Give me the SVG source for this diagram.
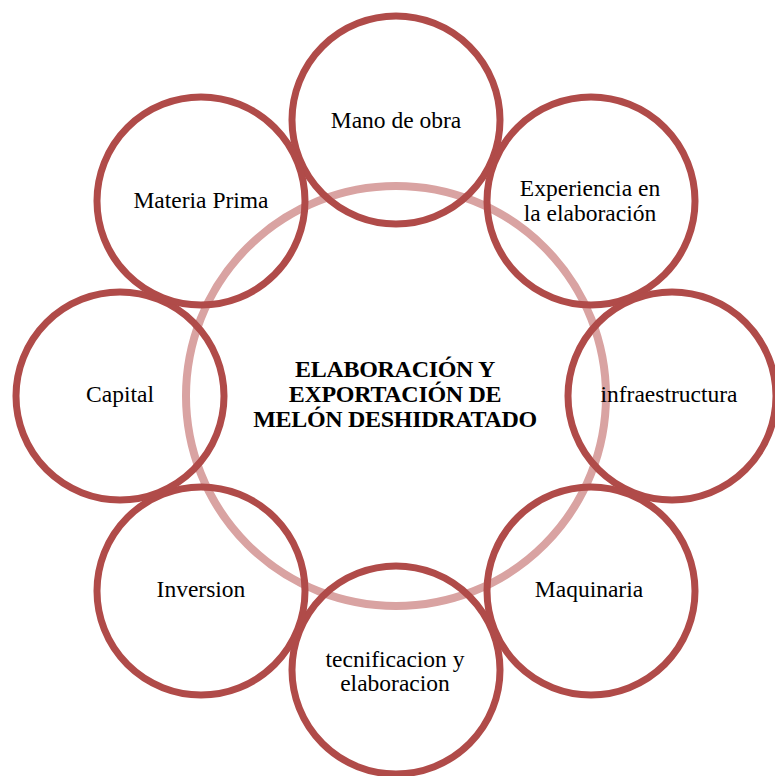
<svg xmlns="http://www.w3.org/2000/svg" width="775" height="776" viewBox="0 0 775 776">
<style>
.hub{fill:none;stroke:#d9a3a2;stroke-width:8}
.n{fill:none;stroke:#b04b49;stroke-width:7}
.t{font-family:"Liberation Serif","Times New Roman",serif;font-size:23.5px;fill:#000;text-anchor:middle}
.b{font-weight:bold;font-size:24px;letter-spacing:-0.3px}
</style>
<rect width="775" height="776" fill="#fff"/>
<g id="center">
<circle class="hub" cx="396" cy="396" r="210"/>
<text class="t b" x="395" y="377">ELABORACIÓN Y</text>
<text class="t b" x="395" y="402">EXPORTACIÓN DE</text>
<text class="t b" x="395" y="427">MELÓN DESHIDRATADO</text>
</g>
<g id="mano"><circle class="n" cx="396" cy="120" r="104"/><text class="t" x="396" y="128">Mano de obra</text></g>
<g id="experiencia"><circle class="n" cx="591" cy="201" r="104"/><text class="t" x="590" y="196">Experiencia  en</text><text class="t" x="590" y="221">la elaboración</text></g>
<g id="infraestructura"><circle class="n" cx="672" cy="396" r="104"/><text class="t" x="669" y="402">infraestructura</text></g>
<g id="maquinaria"><circle class="n" cx="591" cy="591" r="104"/><text class="t" x="589" y="597">Maquinaria</text></g>
<g id="tecnificacion"><circle class="n" cx="396" cy="670" r="104"/><text class="t" x="395" y="667">tecnificacion y</text><text class="t" x="395" y="691">elaboracion</text></g>
<g id="inversion"><circle class="n" cx="201" cy="591" r="104"/><text class="t" x="201" y="597">Inversion</text></g>
<g id="capital"><circle class="n" cx="120" cy="396" r="104"/><text class="t" x="120" y="402">Capital</text></g>
<g id="materia"><circle class="n" cx="201" cy="201" r="104"/><text class="t" x="201" y="208">Materia  Prima</text></g>
<g id="connectors"></g>
</svg>
